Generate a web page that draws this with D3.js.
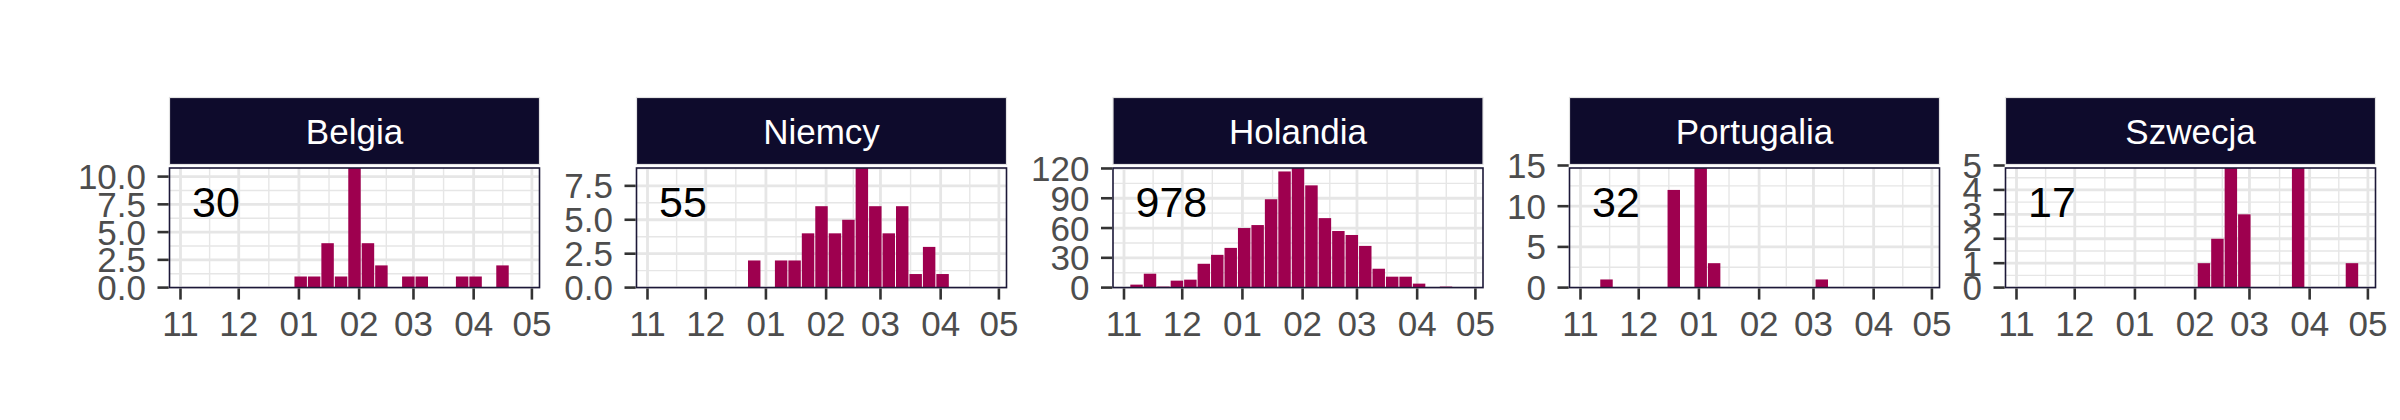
<!DOCTYPE html>
<html>
<head>
<meta charset="utf-8">
<script src="https://cdn.jsdelivr.net/npm/d3@7"></script>
<style>
  html, body { margin: 0; padding: 0; background: #ffffff; }
  svg { display: block; }
  text { font-family: "Liberation Sans", Arial, Helvetica, sans-serif; }
</style>
</head>
<body>
<script>
// ---------------- DATA ----------------
const countries = ["Belgia", "Niemcy", "Holandia", "Portugalia", "Szwecja"];
const totals = [30, 55, 978, 32, 17];
// weekly bins (25 bins) starting at binStart
const binStart = "2020-11-04";
const binDays = 6.93;
const belgia     = [0,0,0,0,0,0,0,0,1,1,4,1,11,4,2,0,1,1,0,0,1,1,0,2,0];
const niemcy     = [0,0,0,0,0,0,0,2,0,2,2,4,6,4,5,9,6,4,6,1,3,1,0,0,0];
const holandia   = [3,14,1,7,8,24,33,40,60,63,89,117,123,103,70,57,53,42,19,11,11,4,0,1,0];
const portugalia = [0,1,0,0,0,0,12,0,15,3,0,0,0,0,0,0,0,1,0,0,0,0,0,0,0];
const szwecja    = [0,0,0,0,0,0,0,0,0,0,0,0,0,1,2,5,3,0,0,0,5,0,0,0,1];
const seriesValues = [belgia, niemcy, holandia, portugalia, szwecja];
// x tick dates (month starts) and labels
const xTickDates = ["2020-11-01","2020-12-01","2021-01-01","2021-02-01","2021-03-01","2021-04-01","2021-05-01"];
const xTickLabels = ["11","12","01","02","03","04","05"];
// y ticks per panel
const yTicksBelgia     = [0, 2.5, 5, 7.5, 10];
const yTicksNiemcy     = [0, 2.5, 5, 7.5];
const yTicksHolandia   = [0, 30, 60, 90, 120];
const yTicksPortugalia = [0, 5, 10, 15];
const yTicksSzwecja    = [0, 1, 2, 3, 4, 5];
const yTickSets = [yTicksBelgia, yTicksNiemcy, yTicksHolandia, yTicksPortugalia, yTicksSzwecja];

// ---------------- LAYOUT ----------------
const W = 2400, H = 420;
const panelLefts = [169.5, 636.5, 1113, 1569.5, 2005.5];
const panelW = 370;
const panelTop = 168, panelBottom = 287.6;
const yRangeTop = 165.5;
const stripTop = 97.5, stripBottom = 164.5;

const barColor = "#9E004F";
const stripFill = "#0E0B2C";
const borderColor = "#1C1838";
const gridColor = "#E6E6E6";
const tickColor = "#333333";
const labelColor = "#4D4D4D";

const parse = d3.utcParse("%Y-%m-%d");
const DAY = 86400000;
const start = parse(binStart).getTime();
const nBins = belgia.length;
const span = nBins * binDays * DAY;
const domain = [new Date(start - 0.05 * span), new Date(start + 1.05 * span)];

const svg = d3.select("body").append("svg")
  .attr("width", W).attr("height", H)
  .attr("viewBox", `0 0 ${W} ${H}`);

svg.append("rect").attr("width", W).attr("height", H).attr("fill", "#fff");

const defs = svg.append("defs");

countries.forEach((name, pi) => {
  const left = panelLefts[pi];
  const right = left + panelW;
  const vals = seriesValues[pi];
  const ticks = yTickSets[pi];
  const maxV = d3.max(vals);

  const x = d3.scaleUtc().domain(domain).range([left, right]);
  const y = d3.scaleLinear().domain([0, maxV]).range([panelBottom, yRangeTop]);

  const clipId = "clip" + pi;
  defs.append("clipPath").attr("id", clipId)
    .append("rect").attr("x", left).attr("y", panelTop)
    .attr("width", panelW).attr("height", panelBottom - panelTop);

  const g = svg.append("g");

  g.append("rect").attr("x", left).attr("y", panelTop)
    .attr("width", panelW).attr("height", panelBottom - panelTop)
    .attr("fill", "#fff");

  const grid = g.append("g").attr("clip-path", `url(#${clipId})`);

  const xt = xTickDates.map(parse);
  const xMinor = [];
  for (let i = 0; i < xt.length - 1; i++) xMinor.push(new Date((xt[i].getTime() + xt[i + 1].getTime()) / 2));
  grid.selectAll(".xminor").data(xMinor).join("line")
    .attr("x1", d => x(d)).attr("x2", d => x(d))
    .attr("y1", panelTop).attr("y2", panelBottom)
    .attr("stroke", gridColor).attr("stroke-width", 1.4);

  const step = ticks[1] - ticks[0];
  const yMinor = ticks.map(t => t + step / 2).filter(v => v <= maxV);
  grid.selectAll(".yminor").data(yMinor).join("line")
    .attr("x1", left).attr("x2", right)
    .attr("y1", d => y(d)).attr("y2", d => y(d))
    .attr("stroke", gridColor).attr("stroke-width", 1.4);

  grid.selectAll(".xmajor").data(xt).join("line")
    .attr("x1", d => x(d)).attr("x2", d => x(d))
    .attr("y1", panelTop).attr("y2", panelBottom)
    .attr("stroke", gridColor).attr("stroke-width", 2.8);
  grid.selectAll(".ymajor").data(ticks).join("line")
    .attr("x1", left).attr("x2", right)
    .attr("y1", d => y(d)).attr("y2", d => y(d))
    .attr("stroke", gridColor).attr("stroke-width", 2.8);

  const bins = vals.map((v, i) => ({
    x0: new Date(start + i * binDays * DAY),
    x1: new Date(start + (i + 1) * binDays * DAY),
    v
  })).filter(d => d.v > 0);
  grid.selectAll(".bar").data(bins).join("rect")
    .attr("x", d => x(d.x0) + 0.5)
    .attr("width", d => x(d.x1) - x(d.x0) - 1)
    .attr("y", d => y(d.v))
    .attr("height", d => y(0) - y(d.v))
    .attr("fill", barColor);

  g.append("text")
    .attr("x", left + 22.5).attr("y", 216.5)
    .attr("font-size", 43).attr("fill", "#000")
    .text(totals[pi]);

  g.append("rect").attr("x", left).attr("y", panelTop)
    .attr("width", panelW).attr("height", panelBottom - panelTop)
    .attr("fill", "none").attr("stroke", borderColor).attr("stroke-width", 1.6);

  g.append("rect").attr("x", left).attr("y", stripTop)
    .attr("width", panelW).attr("height", stripBottom - stripTop)
    .attr("fill", stripFill).attr("stroke", "#E3E3E3").attr("stroke-width", 1.2);
  g.append("text")
    .attr("x", left + panelW / 2).attr("y", (stripTop + stripBottom) / 2 + 12.5)
    .attr("text-anchor", "middle").attr("font-size", 35).attr("fill", "#fff")
    .text(name);

  g.selectAll(".xtick").data(xt).join("line")
    .attr("x1", d => x(d)).attr("x2", d => x(d))
    .attr("y1", panelBottom + 0.8).attr("y2", panelBottom + 12)
    .attr("stroke", tickColor).attr("stroke-width", 2.6);
  g.selectAll(".xlab").data(xt).join("text")
    .attr("x", d => x(d)).attr("y", 335.7)
    .attr("text-anchor", "middle").attr("font-size", 35).attr("fill", labelColor)
    .text((d, i) => xTickLabels[i]);

  const decimals = ticks.some(t => !Number.isInteger(t));
  const fmt = decimals ? d3.format(".1f") : d3.format("d");
  g.selectAll(".ytick").data(ticks).join("line")
    .attr("x1", left - 12).attr("x2", left - 0.8)
    .attr("y1", d => y(d)).attr("y2", d => y(d))
    .attr("stroke", tickColor).attr("stroke-width", 2.6);
  g.selectAll(".ylab").data(ticks).join("text")
    .attr("x", left - 23.5).attr("y", d => y(d) + 12.5)
    .attr("text-anchor", "end").attr("font-size", 35).attr("fill", labelColor)
    .text(d => fmt(d));
});
</script>
</body>
</html>
